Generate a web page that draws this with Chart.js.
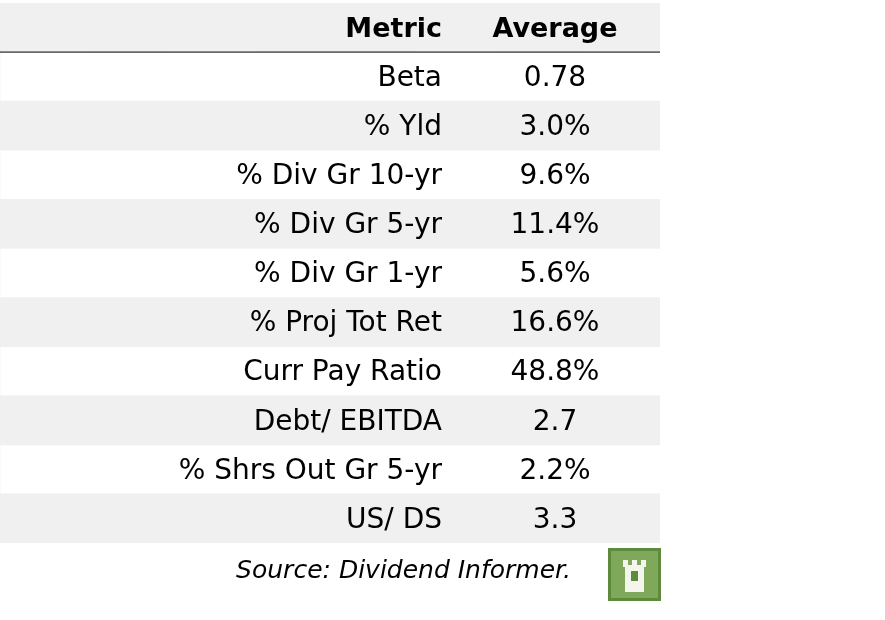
<!DOCTYPE html>
<html><head><meta charset="utf-8">
<script src="https://cdn.jsdelivr.net/npm/chart.js@4"></script>
<style>html,body{margin:0;padding:0;background:#fff}#wrap{width:885px;height:620px}</style>
</head><body><div id="wrap"><canvas id="c" width="885" height="620"></canvas></div>
<script>
const headers = ["Metric", "Average"];
const metrics = ["Beta","% Yld","% Div Gr 10-yr","% Div Gr 5-yr","% Div Gr 1-yr","% Proj Tot Ret","Curr Pay Ratio","Debt/ EBITDA","% Shrs Out Gr 5-yr","US/ DS"];
const averages = ["0.78","3.0%","9.6%","11.4%","5.6%","16.6%","48.8%","2.7","2.2%","3.3"];
const source = "Source: Dividend Informer.";

const rows = [headers[0]].concat(metrics);
const stripes = rows.map((_, i) => i % 2 === 0 ? 1 : 0);
const FONT = "'DejaVu Sans', sans-serif";

function fitText(ctx, text, x, y, target) {
  ctx.fillText(text, x, y);
}

const tablePlugin = {
  id: 'table',
  afterDatasetsDraw(chart) {
    const ctx = chart.ctx, y = chart.scales.y, a = chart.chartArea;
    ctx.save();
    ctx.textBaseline = 'middle';
    rows.forEach((r, i) => {
      const py = y.getPixelForValue(i);
      const bold = i === 0;
      ctx.font = (bold ? 'bold 27px ' : '28px ') + FONT;
      ctx.fillStyle = '#000';
      ctx.textAlign = 'right';
      ctx.fillText(r, 442, py + 2);
      ctx.textAlign = 'center';
      ctx.fillText(i === 0 ? headers[1] : averages[i - 1], 555, py + 2);
    });
    const hb = (y.getPixelForValue(0) + y.getPixelForValue(1)) / 2;
    ctx.strokeStyle = '#000'; ctx.lineWidth = 1;
    ctx.beginPath(); ctx.moveTo(a.left, hb); ctx.lineTo(a.right, hb); ctx.stroke();
    ctx.font = 'italic 25px ' + FONT;
    ctx.textAlign = 'right';
    ctx.fillText(source, 571, 571);
    // logo
    const lx = 608, ly = 548, s = 53;
    ctx.fillStyle = '#5e8a3c'; ctx.fillRect(lx, ly, s, s);
    ctx.fillStyle = '#7fa85a'; ctx.fillRect(lx + 3, ly + 3, s - 6, s - 6);
    ctx.fillStyle = '#f4f6ee';
    ctx.fillRect(lx + 17, ly + 17, 19, 27);
    ctx.fillRect(lx + 15, ly + 12, 5, 7);
    ctx.fillRect(lx + 24, ly + 12, 5, 7);
    ctx.fillRect(lx + 33, ly + 12, 5, 7);
    ctx.fillStyle = '#5e8a3c'; ctx.fillRect(lx + 23, ly + 23, 7, 10);
    ctx.restore();
  }
};

new Chart(document.getElementById('c'), {
  type: 'bar',
  data: { labels: rows, datasets: [{ data: stripes, backgroundColor: '#f0f0f0', barPercentage: 1, categoryPercentage: 1, borderWidth: 0 }] },
  options: {
    indexAxis: 'y', responsive: false, animation: false,
    layout: { padding: { left: 0, right: 225, top: 3, bottom: 77 } },
    plugins: { legend: { display: false }, tooltip: { enabled: false } },
    scales: {
      x: { display: false, min: 0, max: 1 },
      y: { display: false }
    }
  },
  plugins: [tablePlugin]
});
</script></body></html>
